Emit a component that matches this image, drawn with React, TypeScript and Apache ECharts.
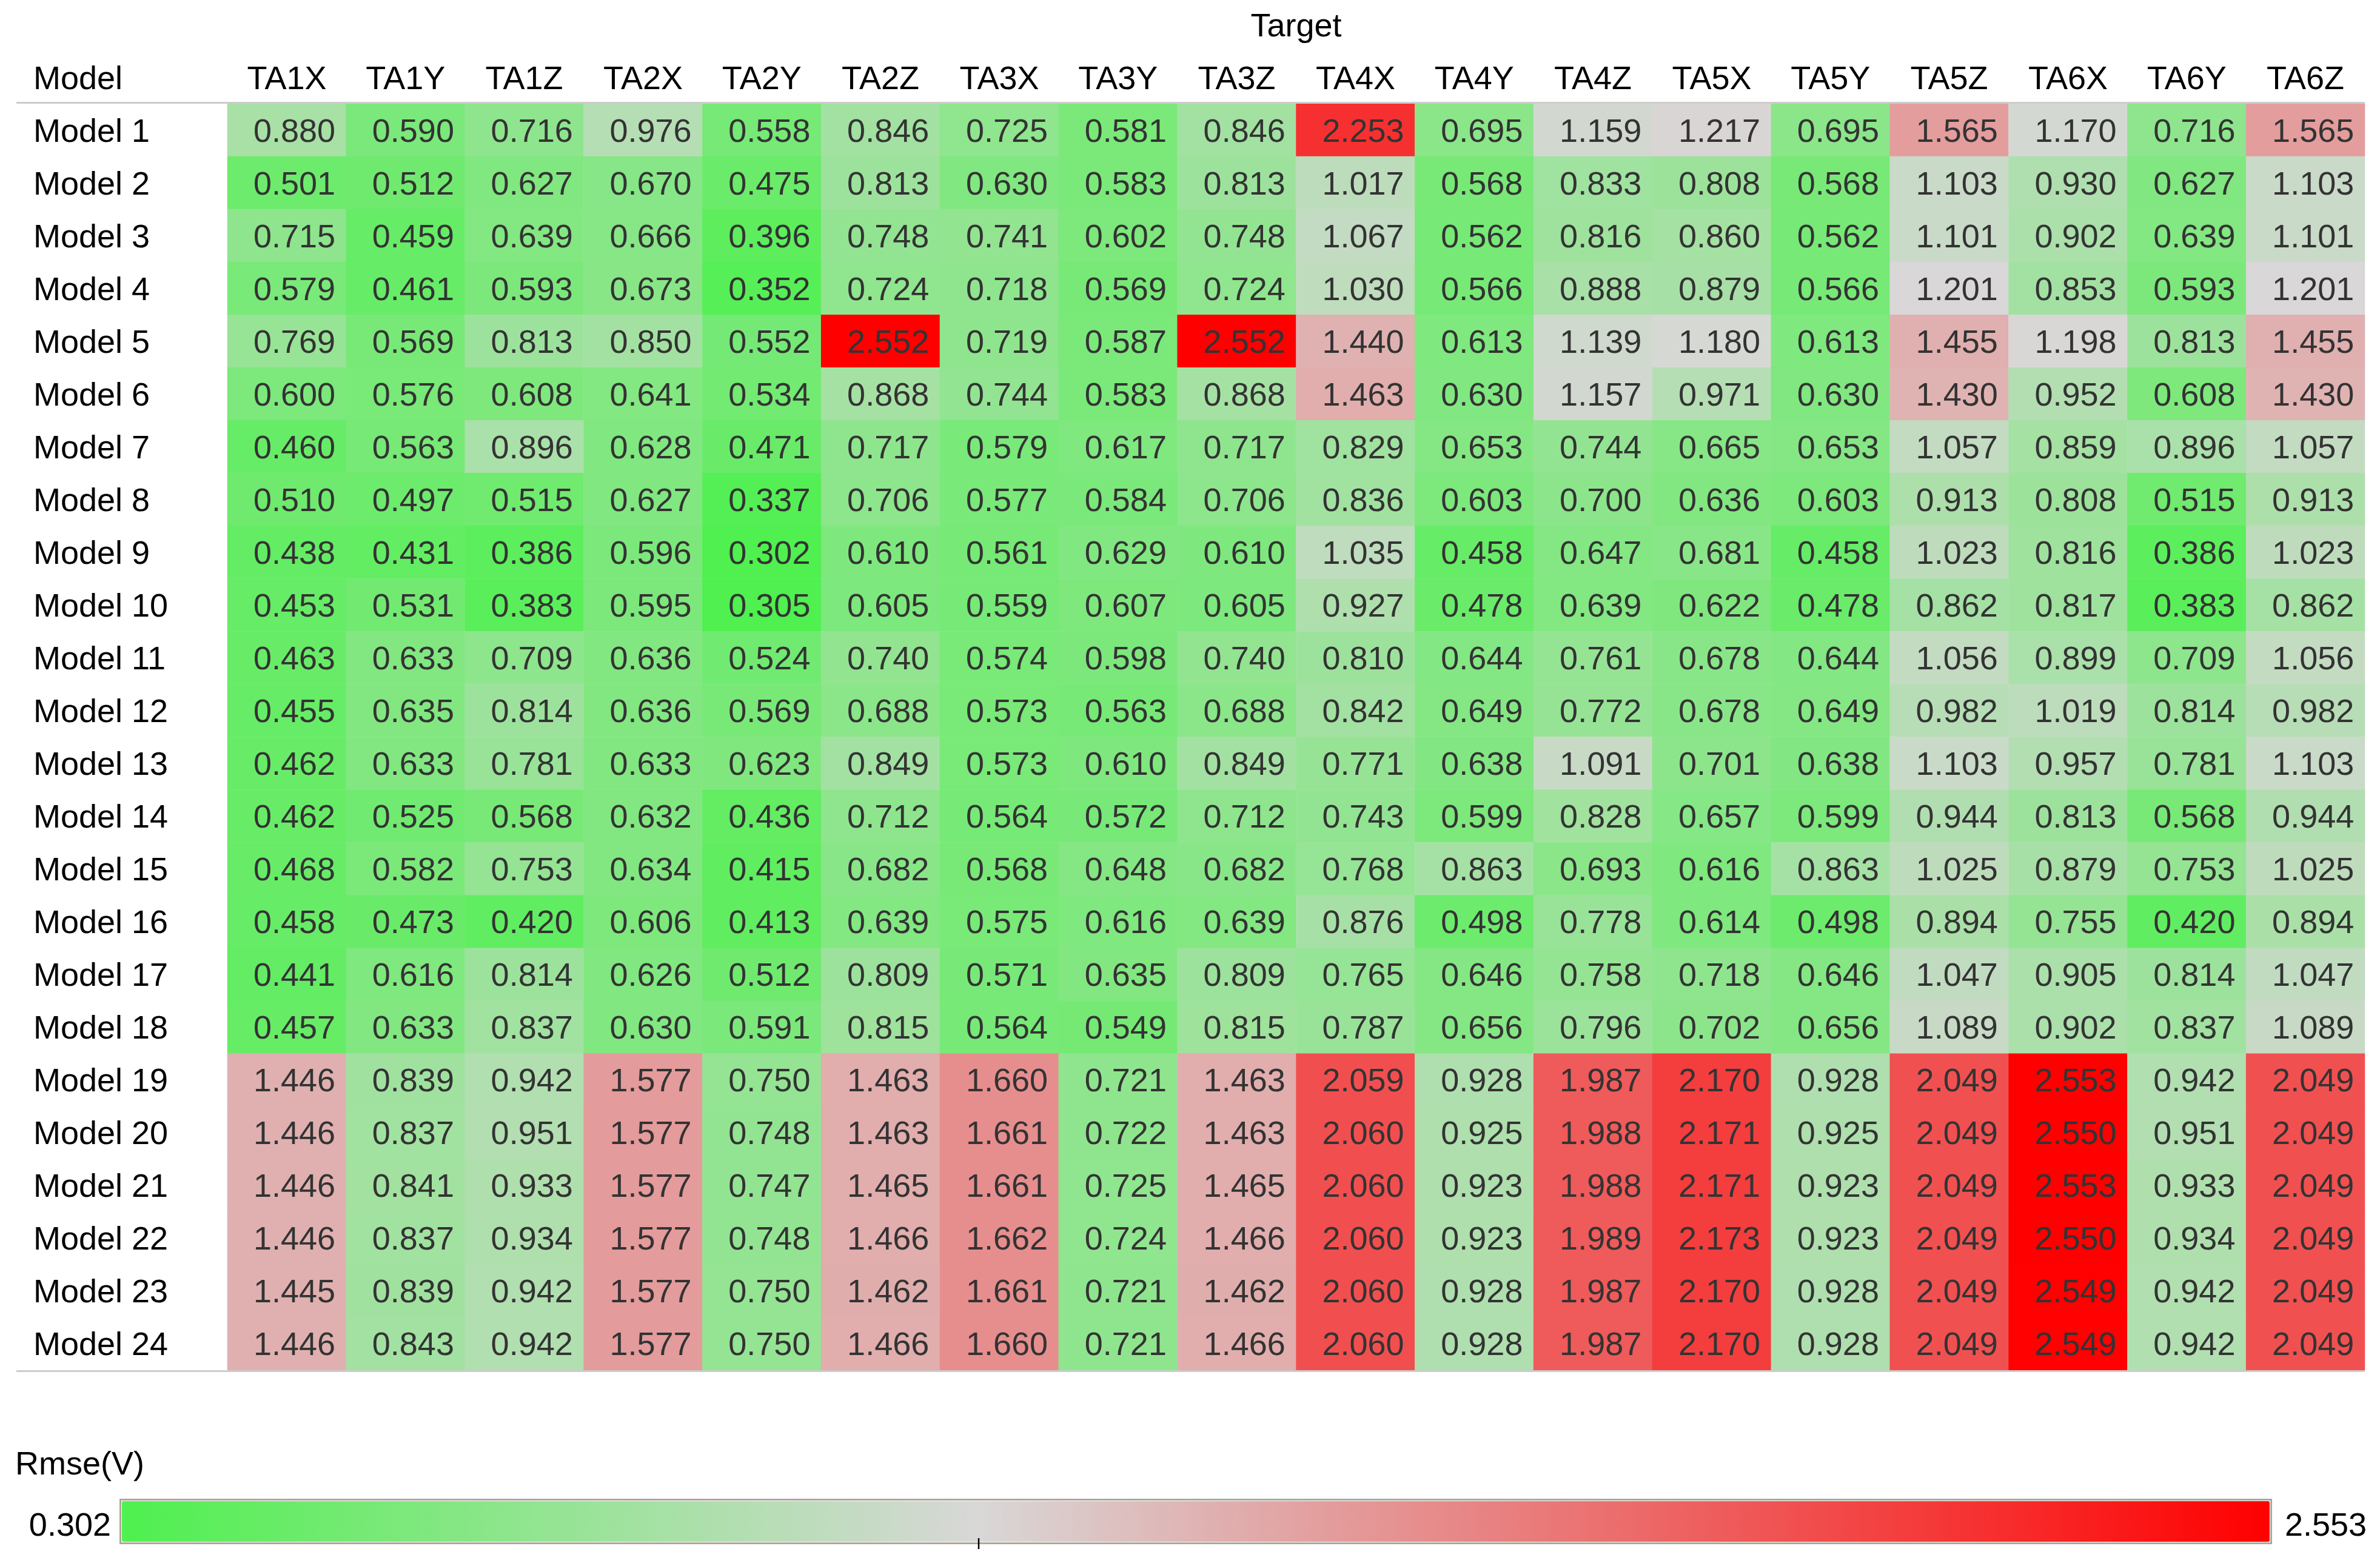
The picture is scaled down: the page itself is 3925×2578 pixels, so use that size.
import React, { useEffect, useRef } from 'react';
import * as echarts from 'echarts';

const targets = ['TA1X', 'TA1Y', 'TA1Z', 'TA2X', 'TA2Y', 'TA2Z', 'TA3X', 'TA3Y', 'TA3Z', 'TA4X', 'TA4Y', 'TA4Z', 'TA5X', 'TA5Y', 'TA5Z', 'TA6X', 'TA6Y', 'TA6Z'];

const models = ['Model 1', 'Model 2', 'Model 3', 'Model 4', 'Model 5', 'Model 6', 'Model 7', 'Model 8', 'Model 9', 'Model 10', 'Model 11', 'Model 12', 'Model 13', 'Model 14', 'Model 15', 'Model 16', 'Model 17', 'Model 18', 'Model 19', 'Model 20', 'Model 21', 'Model 22', 'Model 23', 'Model 24'];

// RMSE (V) per model row, one value per target column
const rmse: number[][] = [
  [0.880, 0.590, 0.716, 0.976, 0.558, 0.846, 0.725, 0.581, 0.846, 2.253, 0.695, 1.159, 1.217, 0.695, 1.565, 1.170, 0.716, 1.565],
  [0.501, 0.512, 0.627, 0.670, 0.475, 0.813, 0.630, 0.583, 0.813, 1.017, 0.568, 0.833, 0.808, 0.568, 1.103, 0.930, 0.627, 1.103],
  [0.715, 0.459, 0.639, 0.666, 0.396, 0.748, 0.741, 0.602, 0.748, 1.067, 0.562, 0.816, 0.860, 0.562, 1.101, 0.902, 0.639, 1.101],
  [0.579, 0.461, 0.593, 0.673, 0.352, 0.724, 0.718, 0.569, 0.724, 1.030, 0.566, 0.888, 0.879, 0.566, 1.201, 0.853, 0.593, 1.201],
  [0.769, 0.569, 0.813, 0.850, 0.552, 2.552, 0.719, 0.587, 2.552, 1.440, 0.613, 1.139, 1.180, 0.613, 1.455, 1.198, 0.813, 1.455],
  [0.600, 0.576, 0.608, 0.641, 0.534, 0.868, 0.744, 0.583, 0.868, 1.463, 0.630, 1.157, 0.971, 0.630, 1.430, 0.952, 0.608, 1.430],
  [0.460, 0.563, 0.896, 0.628, 0.471, 0.717, 0.579, 0.617, 0.717, 0.829, 0.653, 0.744, 0.665, 0.653, 1.057, 0.859, 0.896, 1.057],
  [0.510, 0.497, 0.515, 0.627, 0.337, 0.706, 0.577, 0.584, 0.706, 0.836, 0.603, 0.700, 0.636, 0.603, 0.913, 0.808, 0.515, 0.913],
  [0.438, 0.431, 0.386, 0.596, 0.302, 0.610, 0.561, 0.629, 0.610, 1.035, 0.458, 0.647, 0.681, 0.458, 1.023, 0.816, 0.386, 1.023],
  [0.453, 0.531, 0.383, 0.595, 0.305, 0.605, 0.559, 0.607, 0.605, 0.927, 0.478, 0.639, 0.622, 0.478, 0.862, 0.817, 0.383, 0.862],
  [0.463, 0.633, 0.709, 0.636, 0.524, 0.740, 0.574, 0.598, 0.740, 0.810, 0.644, 0.761, 0.678, 0.644, 1.056, 0.899, 0.709, 1.056],
  [0.455, 0.635, 0.814, 0.636, 0.569, 0.688, 0.573, 0.563, 0.688, 0.842, 0.649, 0.772, 0.678, 0.649, 0.982, 1.019, 0.814, 0.982],
  [0.462, 0.633, 0.781, 0.633, 0.623, 0.849, 0.573, 0.610, 0.849, 0.771, 0.638, 1.091, 0.701, 0.638, 1.103, 0.957, 0.781, 1.103],
  [0.462, 0.525, 0.568, 0.632, 0.436, 0.712, 0.564, 0.572, 0.712, 0.743, 0.599, 0.828, 0.657, 0.599, 0.944, 0.813, 0.568, 0.944],
  [0.468, 0.582, 0.753, 0.634, 0.415, 0.682, 0.568, 0.648, 0.682, 0.768, 0.863, 0.693, 0.616, 0.863, 1.025, 0.879, 0.753, 1.025],
  [0.458, 0.473, 0.420, 0.606, 0.413, 0.639, 0.575, 0.616, 0.639, 0.876, 0.498, 0.778, 0.614, 0.498, 0.894, 0.755, 0.420, 0.894],
  [0.441, 0.616, 0.814, 0.626, 0.512, 0.809, 0.571, 0.635, 0.809, 0.765, 0.646, 0.758, 0.718, 0.646, 1.047, 0.905, 0.814, 1.047],
  [0.457, 0.633, 0.837, 0.630, 0.591, 0.815, 0.564, 0.549, 0.815, 0.787, 0.656, 0.796, 0.702, 0.656, 1.089, 0.902, 0.837, 1.089],
  [1.446, 0.839, 0.942, 1.577, 0.750, 1.463, 1.660, 0.721, 1.463, 2.059, 0.928, 1.987, 2.170, 0.928, 2.049, 2.553, 0.942, 2.049],
  [1.446, 0.837, 0.951, 1.577, 0.748, 1.463, 1.661, 0.722, 1.463, 2.060, 0.925, 1.988, 2.171, 0.925, 2.049, 2.550, 0.951, 2.049],
  [1.446, 0.841, 0.933, 1.577, 0.747, 1.465, 1.661, 0.725, 1.465, 2.060, 0.923, 1.988, 2.171, 0.923, 2.049, 2.553, 0.933, 2.049],
  [1.446, 0.837, 0.934, 1.577, 0.748, 1.466, 1.662, 0.724, 1.466, 2.060, 0.923, 1.989, 2.173, 0.923, 2.049, 2.550, 0.934, 2.049],
  [1.445, 0.839, 0.942, 1.577, 0.750, 1.462, 1.661, 0.721, 1.462, 2.060, 0.928, 1.987, 2.170, 0.928, 2.049, 2.549, 0.942, 2.049],
  [1.446, 0.843, 0.942, 1.577, 0.750, 1.466, 1.660, 0.721, 1.466, 2.060, 0.928, 1.987, 2.170, 0.928, 2.049, 2.549, 0.942, 2.049],
];

const columnTitle = 'Target';
const rowTitle = 'Model';
const legendTitle = 'Rmse(V)';
const paletteCenter = 1.2;
const palette = ['#4ff04f', '#94e493', '#d9d7d7', '#e68f8f', '#f24848', '#ff0000'];

const W = 3925;
const H = 2578;
const FONT = "'Liberation Sans', Arial, sans-serif";
const FS = 54;

export default function App() {
  const ref = useRef<HTMLDivElement>(null);
  useEffect(() => {
    const chart = echarts.init(ref.current as HTMLDivElement, null, { renderer: 'svg' });
    const data: number[][] = [];
    rmse.forEach((row, yi) => row.forEach((v, xi) => data.push([xi, yi, v])));
    const flat = rmse.flat();
    const vmin = Math.min(...flat);
    const vmax = Math.max(...flat);

    const gridLeft = 375;
    const gridRight = 25;
    const gridTop = 171;
    const gridBottom = 318;
    const barLeft = 201;
    const barTop = 2476;
    const barLen = 3542;
    const barThick = 67;
    const tickX = barLeft + ((paletteCenter - vmin) / (vmax - vmin)) * barLen;

    const txt = (text: string, x: number, y: number, align: string, fill = '#000') => ({
      type: 'text',
      x,
      y,
      z: 100,
      silent: true,
      style: {
        text,
        fontSize: FS,
        fontFamily: FONT,
        fill,
        align,
        textAlign: align,
        verticalAlign: 'middle',
        textVerticalAlign: 'middle',
      },
    });

    chart.setOption({
      animation: false,
      backgroundColor: '#ffffff',
      grid: { left: gridLeft, right: gridRight, top: gridTop, bottom: gridBottom, containLabel: false },
      xAxis: {
        type: 'category',
        data: targets,
        position: 'top',
        axisLine: { show: false },
        axisTick: { show: false },
        splitLine: { show: false },
        axisLabel: {
          fontSize: FS,
          fontFamily: FONT,
          color: '#000',
          margin: 43,
          verticalAlign: 'middle',
          interval: 0,
        },
      },
      yAxis: {
        type: 'category',
        data: models,
        inverse: true,
        axisLine: { show: false },
        axisTick: { show: false },
        splitLine: { show: false },
        axisLabel: {
          fontSize: FS,
          fontFamily: FONT,
          color: '#000',
          align: 'left',
          margin: gridLeft - 55,
          interval: 0,
        },
      },
      visualMap: {
        type: 'continuous',
        seriesIndex: 0,
        dimension: 2,
        min: vmin,
        max: vmax,
        orient: 'horizontal',
        left: barLeft,
        top: barTop,
        itemWidth: barThick,
        itemHeight: barLen,
        padding: 0,
        calculable: false,
        hoverLink: false,
        realtime: false,
        inRange: { color: palette },
      },
      graphic: [
        txt(columnTitle, (gridLeft + (W - gridRight)) / 2, 41, 'center'),
        txt(rowTitle, 55, 128, 'left'),
        {
          type: 'line',
          z: 100,
          silent: true,
          shape: { x1: 27, y1: 169.5, x2: W - gridRight, y2: 169.5 },
          style: { stroke: '#cccccc', lineWidth: 3 },
        },
        {
          type: 'line',
          z: 100,
          silent: true,
          shape: { x1: 27, y1: 2261.5, x2: W - gridRight, y2: 2261.5 },
          style: { stroke: '#cccccc', lineWidth: 3 },
        },
        txt(legendTitle, 25, 2413, 'left'),
        txt(vmin.toFixed(3), 183, 2514, 'right'),
        txt(vmax.toFixed(3), 3768, 2514, 'left'),
        {
          type: 'rect',
          z: 100,
          silent: true,
          shape: { x: barLeft - 2.5, y: barTop - 2.5, width: barLen + 5, height: barThick + 5 },
          style: { fill: 'none', stroke: '#aca89a', lineWidth: 3 },
        },
        {
          type: 'line',
          z: 101,
          silent: true,
          shape: { x1: tickX, y1: 2537, x2: tickX, y2: 2555 },
          style: { stroke: '#000', lineWidth: 2.5 },
        },
      ],
      series: [
        {
          type: 'heatmap',
          data,
          itemStyle: { borderWidth: 0 },
          emphasis: { disabled: true },
          label: {
            show: true,
            position: 'insideRight',
            distance: 18,
            fontSize: FS,
            fontFamily: FONT,
            color: '#333333',
            formatter: (p: any) => Number(p.value[2]).toFixed(3),
          },
        },
      ],
    });
    return () => chart.dispose();
  }, []);
  return (
    <div
      ref={ref}
      style={{ position: 'fixed', left: 0, top: 0, width: W, height: H, background: '#fff' }}
    />
  );
}
